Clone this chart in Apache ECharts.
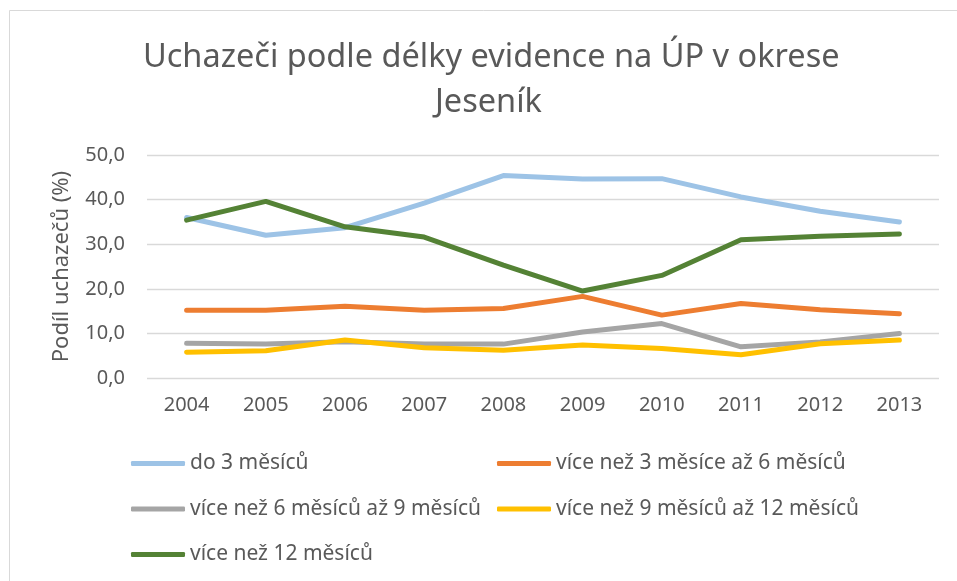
<!DOCTYPE html>
<html>
<head>
<meta charset="utf-8">
<script src="https://cdn.jsdelivr.net/npm/echarts@6/dist/echarts.min.js"></script>
<style>
  html, body { margin: 0; padding: 0; background: #fff; }
  #chart { width: 957px; height: 581px; }
</style>
</head>
<body>
<div id="chart"></div>
<script>
var years = ['2004', '2005', '2006', '2007', '2008', '2009', '2010', '2011', '2012', '2013'];
var seriesNames = [
  'do 3 měsíců',
  'více než 3 měsíce až 6 měsíců',
  'více než 6 měsíců až 9 měsíců',
  'více než 9 měsíců až 12 měsíců',
  'více než 12 měsíců'
];
var do3 = [36.0, 32.0, 33.7, 39.2, 45.4, 44.6, 44.7, 40.6, 37.4, 35.0];
var od3do6 = [15.2, 15.2, 16.1, 15.2, 15.6, 18.3, 14.1, 16.7, 15.3, 14.4];
var od6do9 = [7.8, 7.6, 8.1, 7.6, 7.6, 10.3, 12.2, 7.0, 8.1, 10.0];
var od9do12 = [5.8, 6.1, 8.5, 6.8, 6.2, 7.4, 6.6, 5.2, 7.7, 8.5];
var nad12 = [35.4, 39.6, 33.9, 31.6, 25.3, 19.5, 23.0, 31.0, 31.8, 32.3];
var colors = ['#9DC3E6', '#ED7D31', '#A5A5A5', '#FFC000', '#548235'];

var textColor = '#595959';
var fontFamily = '"Noto Sans", "Open Sans", sans-serif';

var myChart = echarts.init(document.getElementById('chart'));

var data = [do3, od3do6, od6do9, od9do12, nad12];
var series = data.map(function (values, i) {
  return {
    name: seriesNames[i],
    type: 'line',
    data: values,
    symbol: 'none',
    z: i === 4 ? 5 : 2,
    lineStyle: { width: 5, color: colors[i], cap: 'round', join: 'round' },
    itemStyle: { color: colors[i] }
  };
});

var legendBase = {
  orient: 'vertical',
  icon: 'roundRect',
  itemWidth: 54,
  itemHeight: 5,
  itemGap: 24.5,
  top: 448,
  textStyle: { color: textColor, fontSize: 21, fontFamily: fontFamily }
};

var titleStyle = {
  color: textColor,
  fontSize: 32.5,
  fontWeight: 'normal',
  fontFamily: fontFamily
};

var option = {
  backgroundColor: '#fff',
  color: colors,
  animation: false,
  title: [
    { text: 'Uchazeči podle délky evidence na ÚP v okrese', left: 138, top: 36, textStyle: titleStyle },
    { text: 'Jeseník', left: 430, top: 81, textStyle: titleStyle }
  ],
  // 2 sloupce legendy
  legend: [
    Object.assign({}, legendBase, { left: 126, data: [seriesNames[0], seriesNames[2], seriesNames[4]] }),
    Object.assign({}, legendBase, { left: 492, data: [seriesNames[1], seriesNames[3]] })
  ],
  grid: { left: 147, right: 18, top: 155, bottom: 203 },
  xAxis: {
    type: 'category',
    data: years,
    boundaryGap: true,
    axisLine: { show: false },
    axisTick: { show: false },
    axisLabel: { color: textColor, fontSize: 20, fontFamily: fontFamily, margin: 17 }
  },
  yAxis: {
    type: 'value',
    min: 0,
    max: 50,
    interval: 10,
    name: 'Podíl uchazečů (%)',
    nameLocation: 'middle',
    nameGap: 74,
    nameTextStyle: { color: textColor, fontSize: 22, fontFamily: fontFamily },
    axisLine: { show: false },
    axisTick: { show: false },
    splitLine: { lineStyle: { color: '#D9D9D9', width: 1.3 } },
    axisLabel: {
      color: textColor,
      fontSize: 20,
      fontFamily: fontFamily,
      margin: 22,
      formatter: function (v) { return v.toFixed(1).replace('.', ','); }
    }
  },
  graphic: [{
    type: 'rect',
    shape: { x: 9.5, y: 10.5, width: 1000, height: 1000 },
    style: { fill: 'none', stroke: '#D9D9D9', lineWidth: 1 },
    silent: true
  }],
  series: series
};
myChart.setOption(option);
</script>
</body>
</html>
